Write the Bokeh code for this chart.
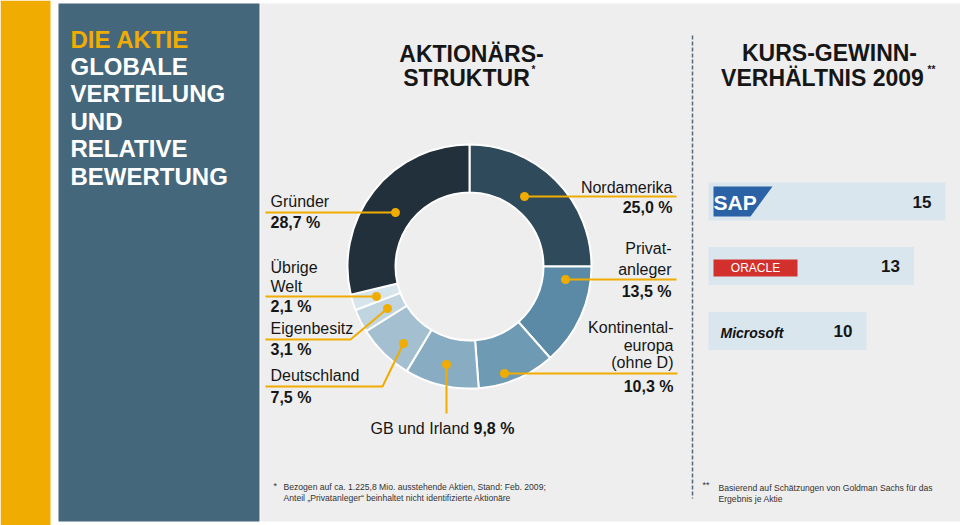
import numpy as np
from bokeh.plotting import figure
from bokeh.models import Range1d, ColumnDataSource
from bokeh.core.properties import value
from bokeh.embed import file_html
from bokeh.resources import INLINE

# ---------------- data ----------------
shareholders = ["Nordamerika", "Privatanleger", "Kontinentaleuropa (ohne D)", "GB und Irland",
                "Deutschland", "Eigenbesitz", "Übrige Welt", "Gründer"]
share_pct = [25.0, 13.5, 10.3, 9.8, 7.5, 3.1, 2.1, 28.7]
share_colors = ["#2f4a5a", "#5b8aa6", "#6f9ab3", "#88adc3", "#a4c0d0", "#c1d5e0", "#d6e4ec", "#21303b"]
share_label_lines = [["Nordamerika"], ["Privat-", "anleger"], ["Kontinental-", "europa", "(ohne D)"],
                     ["GB und Irland"], ["Deutschland"], ["Eigenbesitz"], ["Übrige", "Welt"], ["Gründer"]]

kgv_companies = ["SAP", "Oracle", "Microsoft"]
kgv_values = [15, 13, 10]

title_lines = ["DIE AKTIE", "GLOBALE", "VERTEILUNG", "UND", "RELATIVE", "BEWERTUNG"]
footnote_1 = ["Bezogen auf ca. 1.225,8 Mio. ausstehende Aktien, Stand: Feb. 2009;",
              "Anteil \u201ePrivatanleger\u201c beinhaltet nicht identifizierte Aktionäre"]
footnote_2 = ["Basierend auf Schätzungen von Goldman Sachs für das", "Ergebnis je Aktie"]

# ---------------- helpers (reference pixel -> figure coords) ----------------
W, H = 960, 525
def X(x): return x
def Y(y): return H - y

FONT = "Liberation Sans"
DARK = "#161616"
YELLOW = "#f0ac00"

p = figure(width=W, height=H, x_range=Range1d(0, W), y_range=Range1d(0, H),
           output_backend="svg", toolbar_location=None, min_border=0,
           x_axis_location=None, y_axis_location=None,
           background_fill_color="white", border_fill_color="white", outline_line_color=None)
p.grid.visible = False

def fmt(v):
    return f"{v:.1f}".replace(".", ",") + " %"

def txt(x, y, s, size, style="normal", color=DARK, align="left", **kw):
    p.text(x=[X(x)], y=[Y(y)], text=[s], text_font=value(FONT), text_font_size=f"{size}px",
           text_font_style=style, text_color=color, text_align=align, text_baseline="middle", **kw)

# ---------------- background panels ----------------
p.quad(left=[X(0)], right=[X(50)], top=[Y(0)], bottom=[Y(525)], fill_color=YELLOW, line_color=None)
p.quad(left=[X(58)], right=[X(259)], top=[Y(3)], bottom=[Y(521)], fill_color="#45677b", line_color=None)
p.quad(left=[X(260)], right=[X(960)], top=[Y(3)], bottom=[Y(521)], fill_color="#eeeeee", line_color=None)

# ---------------- left title ----------------
title_y = [38.5, 65.5, 93, 121, 148, 175.5]
for i, (line, ty) in enumerate(zip(title_lines, title_y)):
    txt(70, ty, line, 24, "bold", YELLOW if i == 0 else "white")

# ---------------- middle title ----------------
txt(471, 53, "AKTIONÄRS-", 23, "bold", align="center")
txt(466, 77, "STRUKTUR", 23, "bold", align="center")
txt(531, 69, "*", 10, "bold")

# ---------------- right title ----------------
txt(829, 52.5, "KURS-GEWINN-", 23, "bold", align="center")
txt(822, 77, "VERHÄLTNIS 2009", 23, "bold", align="center")
txt(927, 69, "**", 10, "bold")

# dashed separator
p.line(x=[X(692), X(692)], y=[Y(35), Y(498)], line_color="#566877", line_width=1.5, line_dash="4 2")

# ---------------- donut ----------------
frac = np.array(share_pct) / 100.0
cum = np.concatenate([[0], np.cumsum(frac)])
start = np.pi / 2 - 2 * np.pi * cum[:-1]
end = np.pi / 2 - 2 * np.pi * cum[1:]
donut = ColumnDataSource(dict(name=shareholders, pct=share_pct, color=share_colors, start=start, end=end))
p.annular_wedge(x=X(469), y=Y(266), inner_radius=74, outer_radius=122,
                inner_radius_units="screen", outer_radius_units="screen",
                start_angle="start", end_angle="end", direction="clock",
                fill_color="color", line_color="white", line_width=2, source=donut)

# leader lines (layout, in reference pixels) for each shareholder
leaders = {
    "Nordamerika": [(524, 196), (676, 196)],
    "Privatanleger": [(565, 279), (676, 279)],
    "Kontinentaleuropa (ohne D)": [(504, 373), (677, 373)],
    "GB und Irland": [(446, 364), (446, 413)],
    "Deutschland": [(403, 343), (382, 386), (265, 386)],
    "Eigenbesitz": [(387, 308), (350, 339), (265, 339)],
    "Übrige Welt": [(376, 296), (265, 296)],
    "Gründer": [(395, 212), (265, 212)],
}
xs = [[X(pt[0]) for pt in leaders[n]] for n in shareholders]
ys = [[Y(pt[1]) for pt in leaders[n]] for n in shareholders]
p.multi_line(xs=xs, ys=ys, line_color=YELLOW, line_width=2)
p.scatter(x=[x[0] for x in xs], y=[y[0] for y in ys], size=9, fill_color=YELLOW, line_color=None)

# label layout: (x, align, y of each name line, y of value line)
label_pos = {
    "Nordamerika": (672, "right", [187], 207),
    "Privatanleger": (671, "right", [248, 269], 291),
    "Kontinentaleuropa (ohne D)": (673, "right", [327, 345, 362], 386),
    "Deutschland": (270, "left", [375], 397),
    "Eigenbesitz": (270, "left", [328], 349),
    "Übrige Welt": (270, "left", [267, 286], 306),
    "Gründer": (270, "left", [201], 222),
}
for name, pct, lines in zip(shareholders, share_pct, share_label_lines):
    if name in label_pos:
        lx, al, lys, vy = label_pos[name]
        for s, ly in zip(lines, lys):
            txt(lx, ly, s, 16, "normal", align=al)
        txt(lx, vy, fmt(pct), 16, "bold", align=al)
    else:
        txt(370, 428, lines[0], 16, "normal")
        txt(473, 428, fmt(pct), 16, "bold")

# ---------------- KGV bars ----------------
scale = 15.8  # px per unit
x0 = X(708)
p.extra_x_ranges = {"kgv": Range1d(-x0 / scale, (W - x0) / scale)}
bar_y = [Y(201), Y(265.5), Y(330.5)]
kgv = ColumnDataSource(dict(company=kgv_companies, val=kgv_values, y=bar_y,
                            label=[str(v) for v in kgv_values]))
p.hbar(y="y", left=0, right="val", height=38, fill_color="#d9e6ee", line_color=None,
       source=kgv, x_range_name="kgv")
p.text(x="val", y="y", text="label", x_offset=-14, text_align="right", text_baseline="middle",
       text_font=value(FONT), text_font_size="17px", text_font_style="bold", text_color=DARK,
       source=kgv, x_range_name="kgv")

# logos (drawn as shapes + text)
p.patch(x=[X(713), X(772), X(750), X(713)], y=[Y(186), Y(186), Y(216), Y(216)],
        fill_color="#2b62a6", line_color=None)
txt(713, 202, "SAP", 21, "bold", "white")
p.quad(left=[X(713)], right=[X(797)], top=[Y(259)], bottom=[Y(276)], fill_color="#d2302c", line_color=None)
txt(755, 267.5, "ORACLE", 12, "normal", "white", align="center")
txt(720, 332, "Microsoft", 14, "bold italic", "#111111")

# ---------------- footnotes ----------------
txt(273, 485, "*", 9, "normal", "#333333")
txt(283, 486, footnote_1[0], 8.6, "normal", "#333333")
txt(283, 497, footnote_1[1], 8.6, "normal", "#333333")
txt(702, 484, "**", 9, "normal", "#333333")
txt(718, 487, footnote_2[0], 8.6, "normal", "#333333")
txt(718, 498, footnote_2[1], 8.6, "normal", "#333333")

open("out.html", "w").write(file_html(p, INLINE))
